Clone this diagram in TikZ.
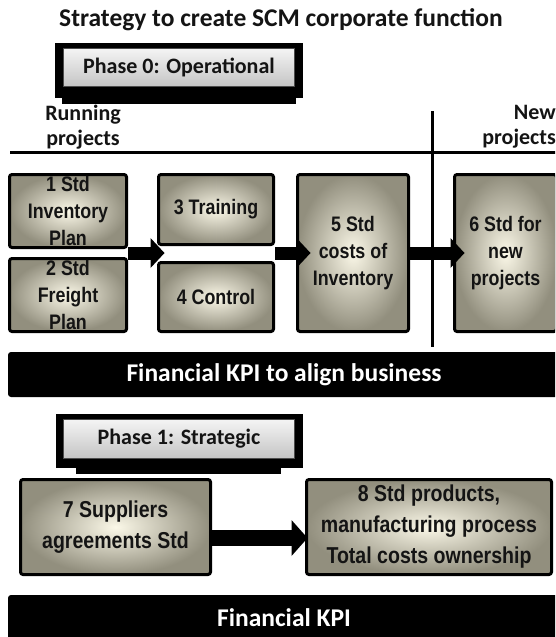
\documentclass[tikz,border=0pt]{standalone}
\usepackage{fontspec}
\setmainfont{Carlito}
\newfontfamily\boxfont{Liberation Sans}[FakeStretch=0.85]
\usetikzlibrary{arrows.meta,calc,shadings}
\definecolor{boxin}{RGB}{251,248,232}
\definecolor{boxout}{RGB}{146,143,126}
\definecolor{boxtxt}{RGB}{20,20,20}
\definecolor{phasetop}{RGB}{244,244,244}
\definecolor{phasebot}{RGB}{196,196,196}
\begin{document}
\begin{tikzpicture}[x=1pt,y=-1pt,
  stdbox/.style={draw=black, line width=3pt, rounded corners=2.5pt, inner color=boxin, outer color=boxout, inner sep=0pt},
  boxlabel/.style={font=\boxfont\bfseries\fontsize{21}{27}\selectfont, text=boxtxt, align=center, inner sep=0pt},
  biglabel/.style={font=\boxfont\bfseries\fontsize{23}{31}\selectfont, text=boxtxt, align=center, inner sep=0pt},
  phasebox/.style={draw=black!70, line width=0.8pt, top color=phasetop, bottom color=phasebot, inner sep=0pt, text=boxtxt, font=\bfseries\fontsize{22}{26}\selectfont},
  headlabel/.style={font=\bfseries\fontsize{22}{25}\selectfont, text=boxtxt, inner sep=0pt},
  kpibar/.style={fill=black, rounded corners=3pt, text=white, font=\bfseries\fontsize{25.5}{30}\selectfont, minimum width=552pt, minimum height=45pt, inner sep=0pt},
  toparrow/.style={line width=13pt, -{Triangle[length=14pt,width=30pt,line width=0pt]}},
  botarrow/.style={line width=16pt, -{Triangle[length=16pt,width=36pt,line width=0pt]}}
]
\useasboundingbox (0,0) rectangle (555,637);
\clip (0,0) rectangle (555,637);
\fill[white] (0,0) rectangle (555,637);

% title
\node[font=\bfseries\fontsize{25.5}{30}\selectfont, text=boxtxt, anchor=base, inner sep=0pt] (title) at (281,26) {Strategy to create SCM corporate function};

% phase 0
\fill[black] (55,43) rectangle (303,98);
\fill[black] (62,98) rectangle (296,104);
\node[phasebox, minimum width=231pt, minimum height=38pt] (p0) at (179,67.5) {Phase 0: Operational};

% headers and dividers
\node[headlabel, align=center] (run) at (83,127) {Running\\projects};
\node[headlabel, align=right, anchor=east] (new) at (556,127) {New\\projects};
\draw[line width=3pt] (10,152) -- (560,152);
\draw[line width=3pt] (432,111) -- (432,347);

% top boxes
\node[stdbox, minimum width=117pt, minimum height=73pt] (b1) at (68,211) {};
\node[stdbox, minimum width=117pt, minimum height=73pt] (b2) at (68,295) {};
\node[stdbox, minimum width=115pt, minimum height=70pt] (b3) at (216,209.5) {};
\node[stdbox, minimum width=115pt, minimum height=69pt] (b4) at (216,297) {};
\node[stdbox, minimum width=111pt, minimum height=157pt] (b5) at (353,253) {};
\node[stdbox, minimum width=102pt, minimum height=157pt] (b6) at (505.5,253) {};

\node[boxlabel] (t1) at (b1) {1 Std\\Inventory\\Plan};
\node[boxlabel] (t2) at (b2) {2 Std\\Freight\\Plan};
\node[boxlabel] (t3) at (b3) {3 Training};
\node[boxlabel] (t4) at (b4) {4 Control};
\node[boxlabel] (t5) at (b5) {5 Std\\costs of\\Inventory};
\node[boxlabel] (t6) at (b6) {6 Std for\\new\\projects};

% top arrows
\coordinate (ya) at (0,253);
\draw[toparrow, shorten >=-7.5pt] (b1.east |- ya) -- (b3.west |- ya);
\draw[toparrow, shorten >=-14.5pt] (b3.east |- ya) -- (b5.west |- ya);
\draw[toparrow, shorten >=-11.5pt] (b5.east |- ya) -- (b6.west |- ya);

% KPI bar 1
\node[kpibar] (kpi0) at (284,374.5) {Financial KPI to align business};

% phase 1
\fill[black] (56,414) rectangle (303,468);
\fill[black] (76,468) rectangle (281,474);
\node[phasebox, minimum width=231pt, minimum height=39pt] (p1) at (179,439) {Phase 1: Strategic};

% bottom boxes
\node[stdbox, minimum width=190pt, minimum height=95pt] (b7) at (115.5,527) {};
\node[stdbox, minimum width=245pt, minimum height=95pt] (b8) at (429,527) {};
\node[biglabel] (t7) at (b7) {7 Suppliers\\agreements Std};
\node[biglabel] (t8) at (b8) {8 Std products,\\manufacturing process\\Total costs ownership};

\coordinate (yb) at (0,538);
\draw[botarrow, shorten >=-2.5pt] (b7.east |- yb) -- (b8.west |- yb);

% KPI bar 2
\node[kpibar] (kpi1) at (284,617.5) {Financial KPI};
\end{tikzpicture}
\end{document}
